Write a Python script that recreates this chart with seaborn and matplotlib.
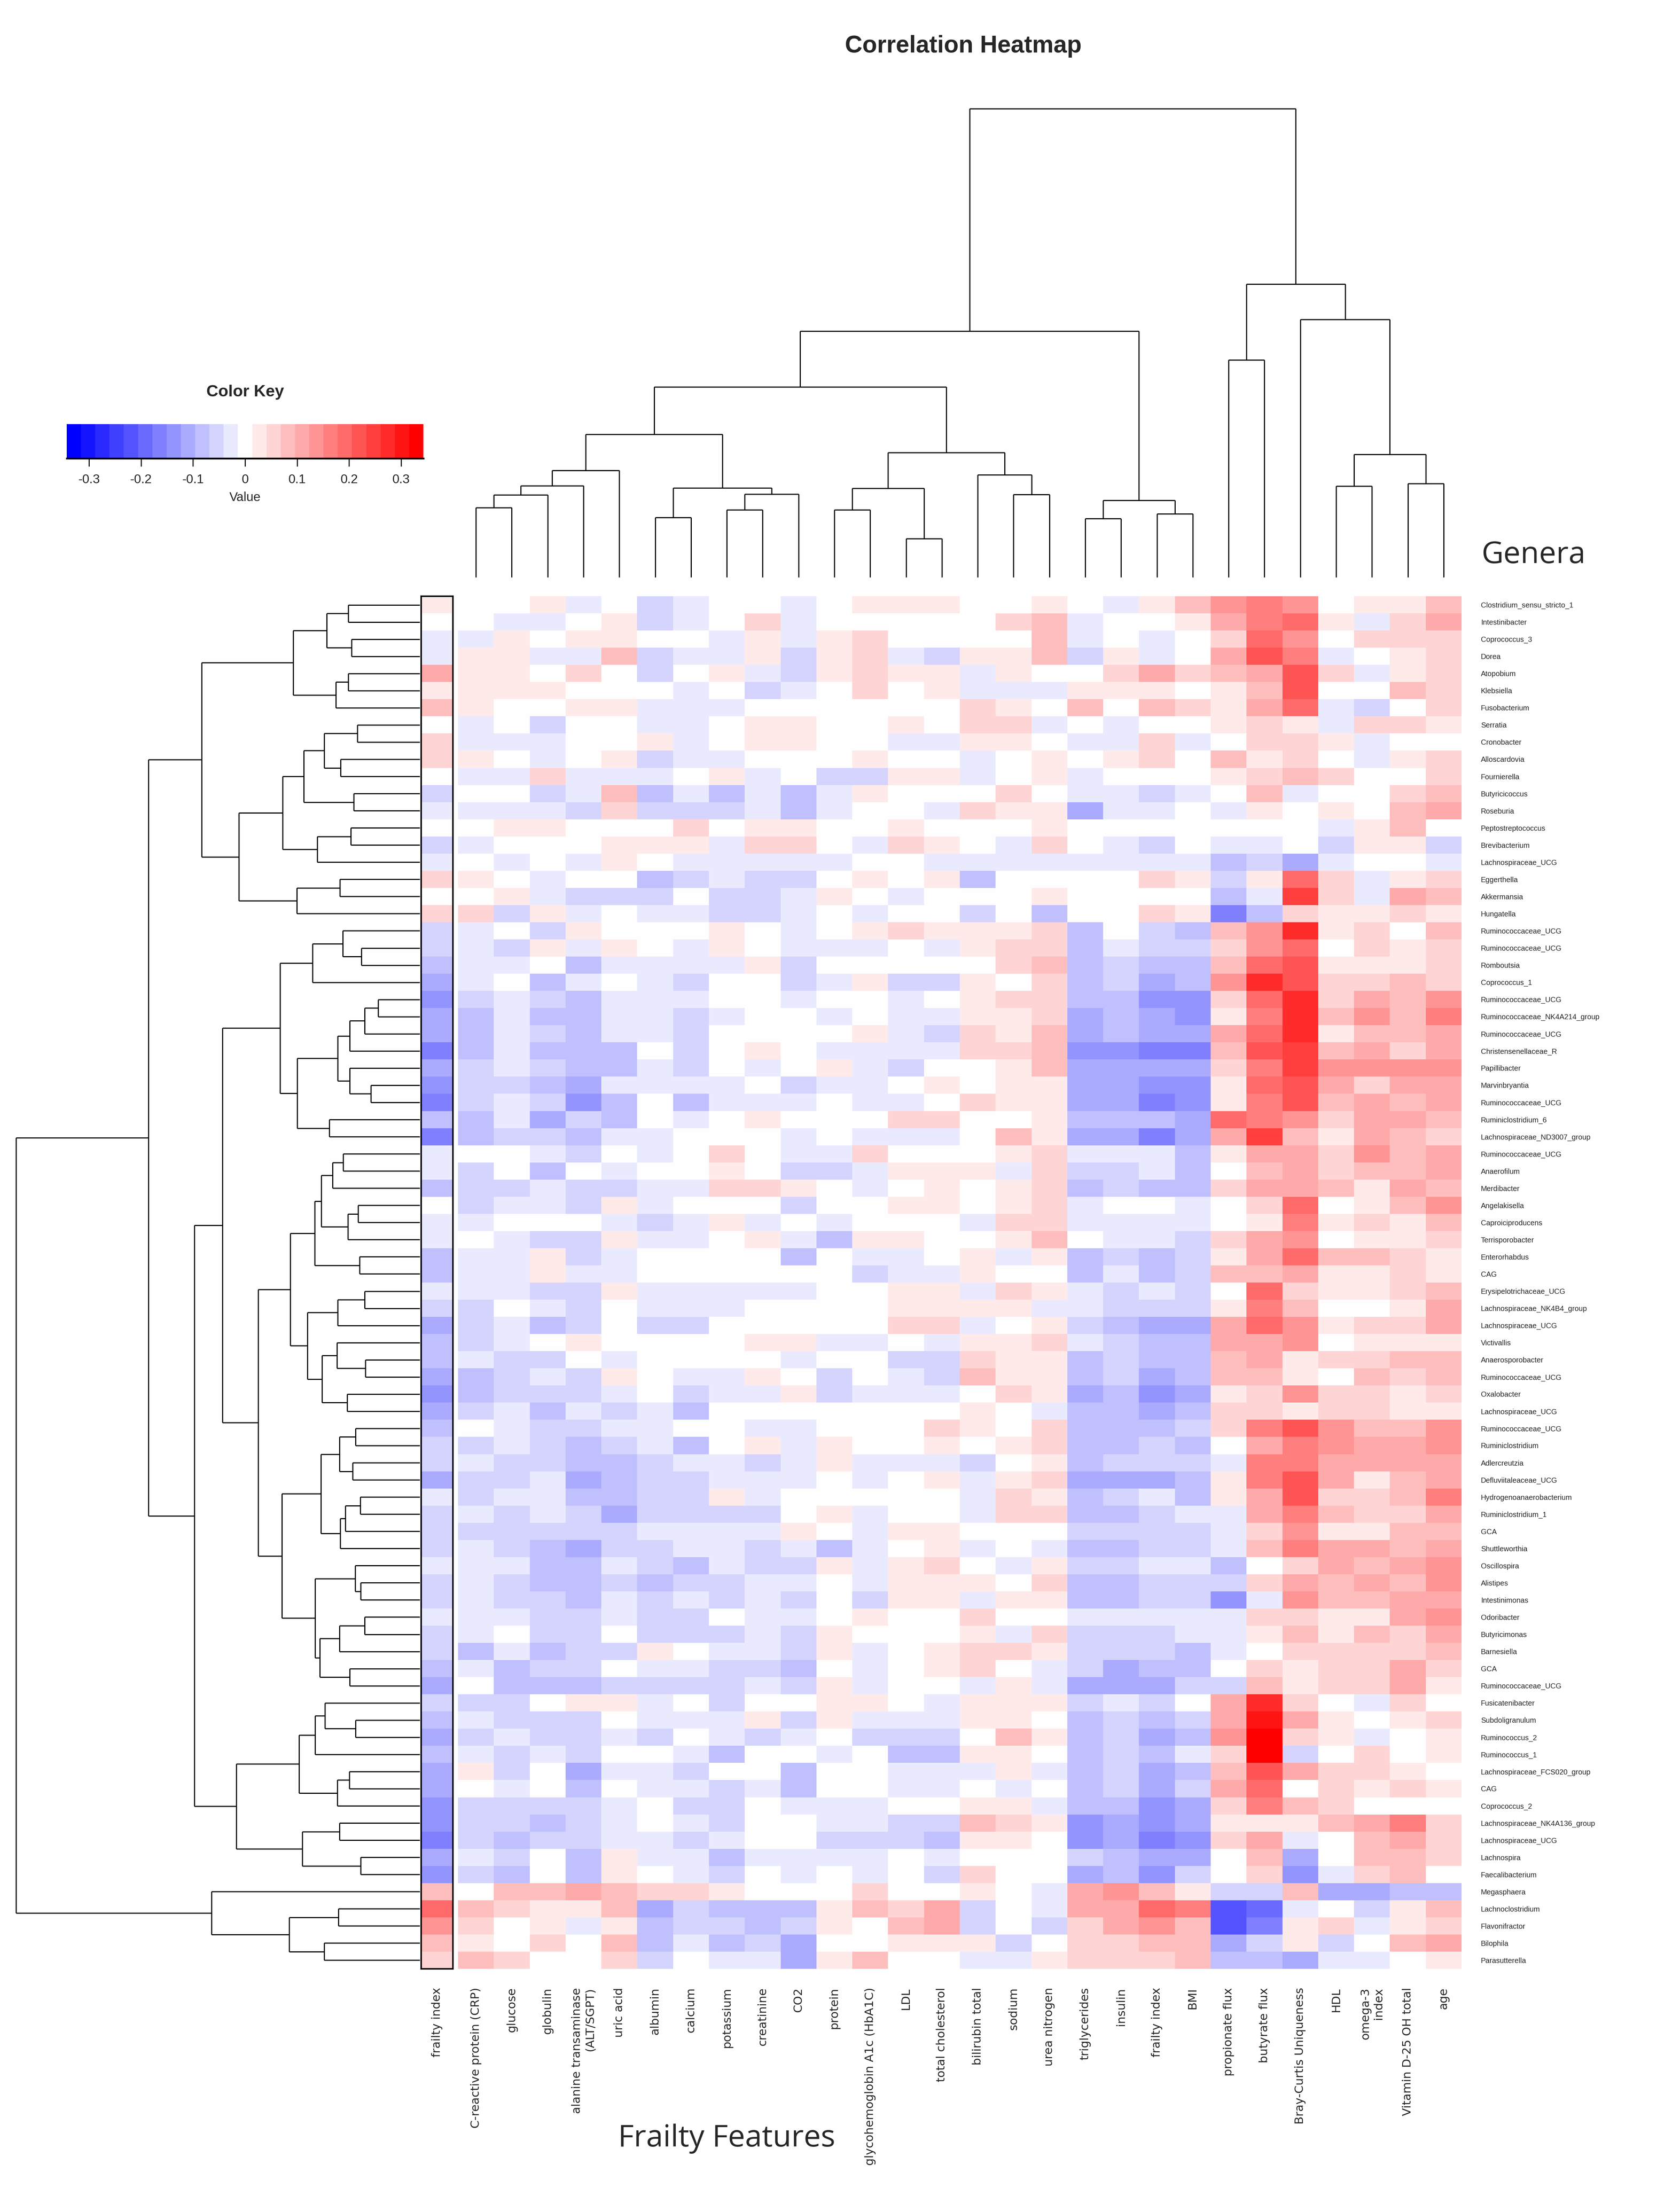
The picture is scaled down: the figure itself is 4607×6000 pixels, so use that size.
import numpy as np
import pandas as pd
import matplotlib
matplotlib.use("Agg")
import matplotlib.pyplot as plt
import seaborn as sns
from matplotlib.colors import LinearSegmentedColormap, ListedColormap

# ---------------- data ----------------
genera = [
    "Clostridium_sensu_stricto_1", "Intestinibacter", "Coprococcus_3", "Dorea", "Atopobium",
    "Klebsiella", "Fusobacterium", "Serratia", "Cronobacter", "Alloscardovia",
    "Fournierella", "Butyricicoccus", "Roseburia", "Peptostreptococcus", "Brevibacterium",
    "Lachnospiraceae_UCG", "Eggerthella", "Akkermansia", "Hungatella", "Ruminococcaceae_UCG",
    "Ruminococcaceae_UCG", "Romboutsia", "Coprococcus_1", "Ruminococcaceae_UCG", "Ruminococcaceae_NK4A214_group",
    "Ruminococcaceae_UCG", "Christensenellaceae_R", "Papillibacter", "Marvinbryantia", "Ruminococcaceae_UCG",
    "Ruminiclostridium_6", "Lachnospiraceae_ND3007_group", "Ruminococcaceae_UCG", "Anaerofilum", "Merdibacter",
    "Angelakisella", "Caproiciproducens", "Terrisporobacter", "Enterorhabdus", "CAG",
    "Erysipelotrichaceae_UCG", "Lachnospiraceae_NK4B4_group", "Lachnospiraceae_UCG", "Victivallis", "Anaerosporobacter",
    "Ruminococcaceae_UCG", "Oxalobacter", "Lachnospiraceae_UCG", "Ruminococcaceae_UCG", "Ruminiclostridium",
    "Adlercreutzia", "Defluviitaleaceae_UCG", "Hydrogenoanaerobacterium", "Ruminiclostridium_1", "GCA",
    "Shuttleworthia", "Oscillospira", "Alistipes", "Intestinimonas", "Odoribacter",
    "Butyricimonas", "Barnesiella", "GCA", "Ruminococcaceae_UCG", "Fusicatenibacter",
    "Subdoligranulum", "Ruminococcus_2", "Ruminococcus_1", "Lachnospiraceae_FCS020_group", "CAG",
    "Coprococcus_2", "Lachnospiraceae_NK4A136_group", "Lachnospiraceae_UCG", "Lachnospira", "Faecalibacterium",
    "Megasphaera", "Lachnoclostridium", "Flavonifractor", "Bilophila", "Parasutterella",
]

features = [
    "C-reactive protein (CRP)", "glucose", "globulin", "alanine transaminase\n(ALT/SGPT)", "uric acid",
    "albumin", "calcium", "potassium", "creatinine", "CO2", "protein", "glycohemoglobin A1c (HbA1C)",
    "LDL", "total cholesterol", "bilirubin total", "sodium", "urea nitrogen", "triglycerides", "insulin",
    "frailty index", "BMI", "propionate flux", "butyrate flux", "Bray-Curtis Uniqueness", "HDL",
    "omega-3\nindex", "Vitamin D-25 OH total", "age",
]

side_feature = "frailty index"

# correlations x 100, one row per genus, columns in the order of `features`
corr_x100 = [
    [0, 0, 3, -3, 0, -5, -3, 0, 0, -3, 0, 3, 3, 3, 0, 0, 3, 0, -3, 3, 8, 14, 16, 14, 0, 3, 3, 8],
    [0, -3, -3, 0, 3, -5, -3, 0, 5, -3, 0, 0, 0, 0, 0, 5, 8, -3, 0, 0, 3, 11, 16, 19, 3, -3, 5, 11],
    [-3, 3, 0, 3, 3, 0, 0, -3, 3, -3, 3, 5, 0, 0, 0, 0, 8, -3, 0, -3, 0, 5, 19, 14, 0, 5, 5, 5],
    [3, 3, -3, -3, 8, -5, -3, -3, 3, -5, 3, 5, -3, -5, 3, 3, 8, -5, 3, -3, 0, 11, 22, 16, -3, 0, 3, 5],
    [3, 3, 0, 5, 0, -5, 0, 3, -3, -5, 3, 5, 3, 3, -3, 3, 0, 0, 5, 11, 5, 8, 11, 22, 5, -3, 3, 5],
    [3, 3, 3, 0, 0, 0, -3, 0, -5, -3, 0, 5, 0, 3, -3, -3, -3, 3, 3, 3, 0, 3, 8, 22, 0, 0, 8, 5],
    [3, 0, 0, 3, 3, -3, -3, -3, 0, 0, 0, 0, 0, 0, 5, 3, 0, 8, 0, 8, 5, 3, 11, 19, -3, -5, 0, 5],
    [-3, 0, -5, 0, 0, -3, -3, 0, 3, 3, 0, 0, 3, 0, 5, 5, -3, 0, -3, 0, 0, 3, 5, 3, -3, 5, 5, 3],
    [-3, -3, -3, 0, 0, 3, -3, 0, 3, 3, 0, 0, -3, -3, 3, 3, 0, -3, -3, 5, -3, 0, 5, 5, 3, -3, 0, 0],
    [3, 0, -3, 0, 3, -5, -3, -3, 0, 0, 0, 3, 0, 0, -3, 0, 3, 0, 3, 5, 0, 8, 3, 5, 0, -3, 3, 5],
    [-3, -3, 5, -3, -3, -3, 0, 3, -3, 0, -5, -5, 3, 3, -3, 0, 3, -3, 0, 0, 0, 3, 5, 8, 5, 0, 0, 5],
    [0, 0, -5, -3, 8, -8, -3, -8, -3, -8, -3, 3, 0, 0, 0, 5, 0, -3, -3, -5, -3, 0, 8, -3, 0, 0, 5, 8],
    [-3, -3, -3, -5, 5, -5, -5, -5, -3, -8, -3, 0, 0, -3, 5, 3, 3, -11, -3, -3, 0, -3, 3, 0, 3, 0, 8, 11],
    [0, 3, 3, 0, 0, 0, 5, 0, 3, 3, 0, 0, 3, 0, 0, 0, 3, 0, 0, 0, 0, 0, 0, 0, -3, 3, 8, 0],
    [-3, 0, 0, 0, 3, 3, 3, -3, 5, 5, 0, -3, 5, 3, 0, -3, 5, 0, -3, -5, 0, -3, -3, 0, -5, 3, 3, -5],
    [0, -3, 0, -3, 3, 0, -3, -3, -3, -3, -3, 0, 0, -3, -3, -3, -3, -3, -3, -3, -3, -8, -5, -11, -3, 0, 0, -3],
    [3, 0, -3, 0, 0, -8, -5, -3, -5, -5, 0, 3, 0, 3, -8, 0, 0, 0, 0, 5, 3, -5, 3, 19, 5, -3, 3, 5],
    [0, 3, -3, -5, -5, -5, 0, -5, -5, -3, 3, 0, -3, 0, 0, 0, 3, 0, 0, 0, 0, -8, -3, 25, 5, -3, 11, 8],
    [5, -5, 3, -3, 0, -3, -3, -5, -5, -3, 0, -3, 0, 0, -5, 0, -8, 0, 0, 5, 3, -16, -8, 5, 3, 3, 5, 3],
    [-3, 0, -5, 3, 0, 0, 0, 3, 0, -3, 0, 3, 5, 3, 3, 3, 5, -8, 0, -5, -8, 8, 14, 27, 3, 5, 0, 8],
    [-3, -5, 3, -3, 3, 0, -3, 3, 0, -3, -3, -3, 0, -3, 3, 5, 5, -8, -3, -5, -5, 5, 14, 19, 0, 5, 3, 5],
    [-3, -3, 0, -8, -3, -3, -3, -3, 3, -5, 0, 0, 0, 0, 0, 5, 8, -8, -5, -8, -8, 8, 19, 22, 3, 3, 3, 5],
    [-3, 0, -8, -3, 0, -3, -5, 0, 0, -5, -3, 3, -5, -5, 3, 0, 5, -8, -5, -11, -8, 14, 27, 22, 5, 5, 8, 5],
    [-5, -3, -5, -8, -3, -3, -3, 0, 0, -3, 0, 0, -3, 0, 3, 5, 5, -8, -8, -14, -14, 5, 19, 27, 5, 11, 8, 14],
    [-8, -3, -8, -8, -3, -3, -5, -3, 0, 0, -3, 0, -3, -3, 3, 3, 5, -11, -8, -11, -14, 3, 16, 27, 8, 14, 8, 16],
    [-8, -3, -5, -8, -3, -3, -5, 0, 0, 0, 0, 3, -3, -5, 5, 3, 8, -11, -8, -11, -11, 11, 19, 27, 3, 8, 8, 11],
    [-8, -3, -8, -8, -8, 0, -5, 0, 3, 0, -3, -3, -3, -3, 5, 5, 8, -14, -14, -16, -16, 8, 22, 25, 8, 11, 5, 11],
    [-5, -3, -5, -8, -8, -3, -5, 0, -3, 0, 3, -3, -5, 0, 0, 3, 8, -11, -11, -11, -11, 5, 16, 25, 14, 14, 14, 14],
    [-5, -5, -8, -11, -3, -3, -3, -3, 0, -5, -3, -3, 0, 3, 0, 3, 3, -11, -11, -14, -14, 3, 19, 22, 11, 5, 11, 11],
    [-5, -3, -5, -14, -8, 0, -8, -3, -3, -3, 0, -3, -3, 0, 5, 3, 3, -11, -11, -16, -14, 3, 16, 22, 8, 11, 8, 11],
    [-8, -3, -11, -5, -8, 0, -3, 0, 3, 0, 0, 0, 5, 5, 0, 0, 3, -8, -8, -8, -11, 19, 16, 14, 5, 11, 11, 8],
    [-8, -5, -5, -8, -3, -3, 0, 0, 0, -3, 0, -3, -3, -3, 0, 8, 3, -11, -11, -16, -11, 11, 25, 8, 3, 11, 8, 5],
    [0, 0, -3, -5, 0, -3, 0, 5, 0, -3, -3, 5, 0, 0, 0, 3, 5, -3, -3, -3, -8, 3, 11, 11, 5, 14, 8, 11],
    [-5, 0, -8, 0, -3, 0, 0, 3, 0, -5, -5, -3, 3, 3, 3, -3, 5, -5, -5, -3, -8, 0, 8, 11, 5, 8, 8, 11],
    [-5, -5, -3, -5, -5, -3, -3, 5, 5, 3, 0, -3, 0, 3, 0, 3, 5, -8, -5, -8, -8, 5, 11, 11, 8, 3, 11, 8],
    [-5, -3, -3, -5, 3, -3, 0, 0, 0, -5, 0, 0, 3, 3, 0, 3, 5, -3, 0, 0, -3, 0, 5, 19, 0, 3, 8, 14],
    [-3, 0, 0, 0, -3, -5, -3, 3, -3, 0, -3, 0, 0, 0, -3, 5, 5, -3, -3, -3, -3, 0, 3, 16, 3, 5, 3, 8],
    [0, -3, -5, -5, 3, -3, -3, 0, 3, -3, -8, 3, 3, 0, 0, 3, 8, 0, -3, -3, -5, 5, 11, 14, 0, 3, 3, 5],
    [-3, -3, 3, -5, -3, 0, 0, 0, 0, -8, 0, -3, -3, 0, 3, -3, 3, -8, -5, -8, -5, 3, 11, 19, 8, 8, 5, 3],
    [-3, -3, 3, -3, -3, 0, 0, 0, 0, 0, 0, -5, -3, -3, 3, 0, 0, -8, -3, -8, -5, 8, 8, 11, 3, 3, 5, 3],
    [-3, -3, -5, -5, 3, -3, -3, -3, -3, -3, 0, 0, 3, 3, -3, 5, 3, -3, -5, -3, -5, 0, 19, 5, 3, 3, 5, 8],
    [-5, 0, -3, -5, 0, -3, -3, -3, 0, 0, 0, 0, 3, 3, 3, 3, -3, -3, -5, -5, -5, 3, 16, 8, 0, 0, 3, 11],
    [-5, -3, -8, -5, 0, -5, -5, 0, 0, 0, 0, 0, 5, 5, -3, 0, 3, -5, -8, -11, -11, 11, 19, 14, 3, 5, 5, 11],
    [-5, -3, 0, 3, 0, 0, 0, 0, 3, 3, -3, -3, 0, -3, 3, 3, 5, -3, -5, -8, -8, 11, 11, 14, 0, 3, 3, 3],
    [-3, -5, -5, 0, -3, 0, 0, 0, 0, -3, 0, 0, -5, -5, 5, 3, 3, -8, -5, -8, -8, 8, 11, 3, 5, 5, 8, 8],
    [-8, -5, -3, -5, 3, 0, -3, -3, 3, 0, -5, 0, -3, -5, 8, 3, 3, -8, -5, -11, -8, 8, 8, 3, 0, 8, 5, 8],
    [-8, -5, -5, -5, -3, 0, -5, -3, -3, 3, -5, -3, -3, -3, 0, 5, 3, -11, -8, -14, -11, 3, 5, 14, 5, 5, 3, 5],
    [-5, -3, -8, -3, -5, -3, -8, 0, 0, 0, 0, 0, 0, 0, 3, 0, -3, -8, -8, -11, -8, 5, 5, 3, 5, 5, 3, 3],
    [0, -3, -5, -5, -3, -3, 0, 0, -3, -3, 0, 0, 0, 5, 3, 0, 5, -8, -8, -8, -5, 5, 16, 22, 14, 8, 8, 14],
    [-5, -3, -5, -8, -5, -3, -8, 0, 3, -3, 3, 0, 0, 3, 0, 3, 5, -8, -8, -5, -8, 0, 11, 16, 14, 11, 11, 14],
    [-3, -5, -5, -8, -8, -5, -3, -3, -5, -3, 3, -3, -3, -3, -5, 0, 3, -8, -5, -5, -5, -3, 16, 16, 11, 11, 11, 11],
    [-5, -5, -3, -11, -8, -5, -5, -3, -3, -3, 0, -3, 0, 3, -3, 3, 5, -11, -11, -11, -8, 3, 16, 22, 11, 3, 8, 11],
    [-5, -3, -3, -8, -8, -5, -5, 3, -3, 0, 0, 0, 0, 0, -3, 5, 3, -8, -5, -3, -8, 3, 11, 22, 5, 5, 8, 16],
    [-3, -5, -3, -5, -11, -5, -5, -5, -5, 0, 3, -3, 0, 0, -3, 5, 5, -8, -8, -5, -3, -3, 11, 16, 8, 5, 5, 11],
    [-5, -5, -5, -5, -5, -3, -3, -3, -3, 3, 0, -3, 3, 3, 0, 0, 0, -5, -5, -5, -5, -3, 5, 14, 3, 3, 8, 8],
    [-3, -5, -8, -11, -5, -5, -3, -3, -5, -3, -8, -3, 0, 3, -3, 0, -3, -8, -8, -5, -5, -3, 8, 16, 11, 11, 8, 11],
    [-3, -3, -8, -8, -3, -5, -8, -3, -5, -5, 3, -3, 3, 5, 0, -3, 3, -5, -5, -3, -3, -8, 0, 5, 11, 8, 11, 14],
    [-3, -5, -8, -8, -5, -8, -5, -5, -3, -3, 0, -3, 3, 3, 3, 0, 5, -8, -8, -5, -5, -5, 5, 11, 8, 11, 8, 14],
    [-3, -5, -5, -8, -3, -5, -3, -5, -3, -5, 0, -5, 3, 3, -3, 3, 3, -8, -8, -5, -5, -14, -3, 14, 8, 8, 11, 11],
    [-3, -3, -5, -5, -3, -5, -5, 0, -3, -3, 0, 3, 0, 0, 5, 0, 0, -3, -3, -3, -3, -3, 5, 5, 3, 3, 11, 14],
    [-3, 0, -5, -5, 0, -5, -5, -5, -3, -5, 3, 0, 0, 0, 3, -3, 5, -5, -5, -5, -3, -3, 3, 8, 3, 8, 5, 11],
    [-8, -3, -8, -5, -5, 3, 0, -3, -3, -5, 3, -3, 0, 3, 5, 5, 3, -5, -5, -5, -8, -3, 0, 5, 5, 5, 5, 8],
    [-3, -8, -5, -5, 0, -3, -3, -5, -5, -8, 0, -3, 0, 3, 5, 0, -3, -5, -11, -8, -8, 0, 5, 3, 5, 5, 11, 5],
    [0, -8, -8, -8, -5, -5, -5, -5, -3, -5, 3, -3, 0, 0, -3, 3, -3, -11, -11, -11, -5, -5, 8, 3, 5, 5, 11, 3],
    [-5, -5, 0, 3, 3, -3, 0, -5, 0, 0, 3, 3, 0, -3, 3, 3, 3, -5, -3, -5, 0, 11, 27, 5, 0, -3, 5, 0],
    [-3, -5, -5, -5, 0, -3, -3, -3, 3, -5, 3, -3, -3, -3, 3, 3, 0, -8, -5, -8, -5, 11, 30, 11, 3, 0, 3, 5],
    [-5, -3, -5, -5, -3, -5, 0, -3, -5, -3, 0, -5, -5, -5, 0, 8, 3, -8, -5, -11, -8, 14, 33, 5, 3, -3, 0, 3],
    [-3, -5, -3, -5, 0, 0, -3, -8, 0, 0, -3, 0, -8, -8, 3, 3, 0, -8, -5, -8, -3, 5, 33, -5, 0, 5, 0, 3],
    [3, -5, 0, -11, -3, -3, -5, 0, 0, -8, 0, 0, -3, -3, -3, 3, -3, -8, -5, -11, -8, 8, 22, 11, 5, 5, 3, 0],
    [0, -3, 0, -8, 0, -3, -3, -5, -3, -8, 0, 0, -3, -3, 0, -3, 0, -8, -5, -11, -5, 11, 19, 0, 5, 3, 5, 3],
    [-5, -5, -5, -5, -3, 0, -5, -5, 0, -3, -3, -3, 0, 0, 3, 3, -3, -8, -8, -14, -11, 5, 16, 8, 5, 0, 0, 0],
    [-5, -5, -8, -5, -3, 0, -3, -5, 0, 0, -3, -3, -5, -5, 8, 5, 3, -14, -11, -14, -11, 3, 3, 3, 8, 11, 16, 5],
    [-5, -8, -5, -5, -3, -3, -5, -3, 0, 0, -5, -5, -5, -8, 3, 3, 0, -14, -11, -16, -14, 5, 11, -3, 0, 8, 11, 5],
    [-3, -5, 0, -8, 3, -3, -3, -8, -3, -3, -3, -3, 0, -3, 0, 0, 0, -5, -8, -11, -11, 0, 8, -11, 0, 8, 8, 5],
    [-5, -8, 0, -8, 3, 0, -3, -5, 0, -3, 0, -3, 0, -5, 5, 0, 0, -11, -8, -14, -5, 0, 5, -14, -3, 5, 8, 0],
    [0, 8, 8, 11, 8, 5, 5, 3, 0, 0, 0, 5, 0, 0, 3, 0, -3, 11, 14, 8, 3, -5, -5, 8, -11, -11, -8, -8],
    [8, 5, 3, 3, 8, -11, -5, -8, -8, -8, 3, 8, 5, 11, -5, 0, -3, 11, 11, 19, 16, -22, -19, -3, 0, -5, 3, 8],
    [5, 0, 3, -3, 3, -8, -5, -5, -8, -5, 3, 0, 8, 11, -5, 0, -5, 5, 11, 14, 8, -22, -16, 3, 5, -3, 3, 5],
    [3, 0, 5, 0, 8, -8, -3, -8, -5, -11, 0, 0, 3, 3, 3, -5, 0, 5, 5, 8, 8, -11, -5, 3, -5, 0, 8, 11],
    [8, 5, 0, 0, 5, -5, 0, -3, -3, -11, 3, 8, 0, 0, -3, -3, 3, 5, 5, 5, 8, -8, -8, -11, -3, -3, 0, 3],
]

# column dendrogram merges (scipy-style ids: leaves 0..27, merge k -> 28+k), heights
col_merges = [
    (0, 1, 2.20), (28, 2, 2.60), (29, 3, 2.89), (30, 4, 3.38), (5, 6, 1.89),
    (7, 8, 2.13), (33, 9, 2.63), (32, 34, 2.82), (31, 35, 4.52), (10, 11, 2.13),
    (12, 13, 1.22), (37, 38, 2.81), (15, 16, 2.62), (14, 40, 3.24), (39, 41, 3.94),
    (36, 42, 6.02), (17, 18, 1.85), (19, 20, 2.00), (44, 45, 2.43), (43, 46, 7.78),
    (21, 22, 6.87), (24, 25, 2.88), (26, 27, 2.96), (49, 50, 3.88), (23, 51, 8.15),
    (48, 52, 9.27), (47, 53, 14.81),
]

# row dendrogram merges (leaves 0..79, merge k -> 80+k), heights
row_merges = [
    (0, 1, 2.60), (2, 3, 2.49), (80, 81, 3.39), (4, 5, 2.60), (83, 6, 3.05),
    (82, 84, 4.61), (7, 8, 2.27), (9, 10, 2.88), (86, 87, 3.48), (11, 12, 2.40),
    (88, 89, 4.22), (13, 14, 2.51), (91, 15, 3.74), (90, 92, 4.99), (16, 17, 2.91),
    (94, 18, 4.48), (93, 95, 6.59), (85, 96, 7.95), (20, 21, 2.12), (19, 98, 2.80),
    (99, 22, 3.91), (23, 24, 1.51), (101, 25, 2.01), (102, 26, 2.55), (28, 29, 1.78),
    (27, 104, 2.55), (103, 105, 2.99), (30, 31, 3.29), (106, 107, 4.46), (100, 108, 5.09),
    (32, 33, 2.79), (110, 34, 3.17), (35, 36, 2.24), (112, 37, 2.62), (111, 113, 3.59),
    (38, 39, 2.19), (114, 115, 3.83), (40, 41, 2.01), (117, 42, 2.99), (44, 45, 1.98),
    (43, 119, 3.02), (46, 47, 2.64), (120, 121, 3.56), (118, 122, 4.09), (116, 123, 4.72),
    (48, 49, 2.34), (50, 51, 2.44), (125, 126, 2.93), (52, 53, 2.16), (128, 54, 2.71),
    (129, 55, 2.90), (127, 130, 3.60), (57, 58, 2.15), (56, 132, 2.35), (59, 60, 2.01),
    (134, 61, 2.92), (62, 63, 2.55), (135, 136, 3.64), (133, 137, 3.82), (131, 138, 5.02),
    (124, 139, 5.89), (109, 140, 7.19), (65, 66, 2.34), (64, 142, 3.45), (143, 67, 3.81),
    (68, 69, 2.57), (145, 70, 3.00), (144, 146, 4.40), (71, 72, 2.93), (73, 74, 2.15),
    (148, 149, 4.28), (147, 150, 6.68), (141, 151, 8.21), (97, 152, 9.89), (76, 77, 2.96),
    (78, 79, 3.48), (154, 155, 4.76), (75, 156, 7.59), (153, 157, 14.71),
]

key_limit = 0.3427
key_bins = 25
key_ticks = [-0.3, -0.2, -0.1, 0.0, 0.1, 0.2, 0.3]
key_ticklabels = ["-0.3", "-0.2", "-0.1", "0", "0.1", "0.2", "0.3"]

# ---------------- styling / layout ----------------
sns.set_theme(style="white")
plt.rcParams["font.family"] = ["Liberation Sans", "DejaVu Sans"]

W, H, DPI = 4607, 6000, 100
fig = plt.figure(figsize=(W / DPI, H / DPI), dpi=DPI)
fig.patch.set_facecolor("white")


def add_ax(x0, y0, x1, y1):
    return fig.add_axes([x0 / W, 1 - y1 / H, (x1 - x0) / W, (y1 - y0) / H])


ramp = LinearSegmentedColormap.from_list("bwr_key", ["#0000FF", "#FFFFFF", "#FF0000"])
cmap = ListedColormap(ramp(np.linspace(0, 1, key_bins)))

df = pd.DataFrame(np.array(corr_x100) / 100.0, index=genera, columns=features)

HX0, HX1, HY0, HY1 = 1256, 4008, 1635, 5399
LW = 2.2

# main heatmap
ax_h = add_ax(HX0, HY0, HX1, HY1)
sns.heatmap(df, ax=ax_h, cmap=cmap, vmin=-key_limit, vmax=key_limit, cbar=False,
            xticklabels=True, yticklabels=True)
ax_h.set_xlabel("")
ax_h.set_ylabel("")
ax_h.yaxis.tick_right()
ax_h.set_yticks(np.arange(len(genera)) + 0.5)
ax_h.set_yticklabels(genera, rotation=0, fontsize=14.5, ha="left")
ax_h.set_xticks(np.arange(len(features)) + 0.5)
ax_h.set_xticklabels(features, rotation=90, fontsize=23, family=["DejaVu Sans"],
                     ha="center", va="top", multialignment="right")
ax_h.tick_params(axis="y", length=0, pad=38)
ax_h.tick_params(axis="x", length=0, pad=37)

# side colour bar (frailty index)
ax_s = add_ax(1155, HY0, 1242, HY1)
sns.heatmap(df[[side_feature]], ax=ax_s, cmap=cmap, vmin=-key_limit, vmax=key_limit,
            cbar=False, yticklabels=False, xticklabels=[side_feature])
ax_s.set_xticklabels([side_feature], rotation=90, fontsize=23, family=["DejaVu Sans"],
                     ha="center", va="top")
ax_s.tick_params(axis="x", length=0, pad=37)
ax_s.set_xlabel("")
ax_s.set_ylabel("")
for sp in ax_s.spines.values():
    sp.set_visible(True)
    sp.set_color("black")
    sp.set_linewidth(3.0)


def dendro_segments(n_leaves, merges):
    pos = {i: i + 0.5 for i in range(n_leaves)}
    hgt = {i: 0.0 for i in range(n_leaves)}
    segs = []
    for k, (a, b, h) in enumerate(merges):
        segs.append(([pos[a], pos[a]], [hgt[a], h]))
        segs.append(([pos[b], pos[b]], [hgt[b], h]))
        segs.append(([pos[a], pos[b]], [h, h]))
        pos[n_leaves + k] = (pos[a] + pos[b]) / 2.0
        hgt[n_leaves + k] = h
    return segs


# column dendrogram
ax_cd = add_ax(HX0, 298, HX1, 1583)
for xs, ys in dendro_segments(len(features), col_merges):
    ax_cd.plot(xs, ys, color="black", lw=LW, solid_capstyle="butt", clip_on=False)
ax_cd.set_xlim(0, len(features))
ax_cd.set_ylim(0, col_merges[-1][2])
ax_cd.axis("off")

# row dendrogram
ax_rd = add_ax(44, HY0, 1151, HY1)
for ps, hs in dendro_segments(len(genera), row_merges):
    ax_rd.plot(hs, ps, color="black", lw=LW, solid_capstyle="butt", clip_on=False)
ax_rd.set_ylim(len(genera), 0)
ax_rd.set_xlim(row_merges[-1][2], 0)
ax_rd.axis("off")

# colour key
ax_k = add_ax(183, 1163, 1161, 1257)
edges = np.linspace(-key_limit, key_limit, key_bins + 1)
centers = (edges[:-1] + edges[1:]) / 2
ax_k.pcolormesh(edges, [0, 1], centers[None, :], cmap=cmap, vmin=-key_limit, vmax=key_limit)
ax_k.set_xlim(-key_limit, key_limit)
ax_k.set_ylim(0, 1)
ax_k.set_yticks([])
ax_k.set_xticks(key_ticks)
ax_k.set_xticklabels(key_ticklabels, fontsize=25)
ax_k.tick_params(axis="x", direction="out", length=16, width=2, pad=14, bottom=True, color="black")
for name, sp in ax_k.spines.items():
    sp.set_visible(name == "bottom")
ax_k.spines["bottom"].set_linewidth(3.5)
ax_k.spines["bottom"].set_color("black")
ax_k.set_xlabel("Value", fontsize=25, labelpad=12)

fig.text(672 / W, 1 - 1075 / H, "Color Key", fontsize=32.5, fontweight="bold",
         ha="center", va="center")

# titles
fig.text(2642 / W, 1 - 127 / H, "Correlation Heatmap", fontsize=47.5, fontweight="bold",
         ha="center", va="center")
fig.text(4063 / W, 1 - 1544 / H, "Genera", fontsize=60, family=["Open Sans", "DejaVu Sans"],
         ha="left", va="baseline")
fig.text(1993 / W, 1 - 5886 / H, "Frailty Features", fontsize=60,
         family=["Open Sans", "DejaVu Sans"], ha="center", va="baseline")

fig.savefig("out.png", dpi=DPI, facecolor="white")
